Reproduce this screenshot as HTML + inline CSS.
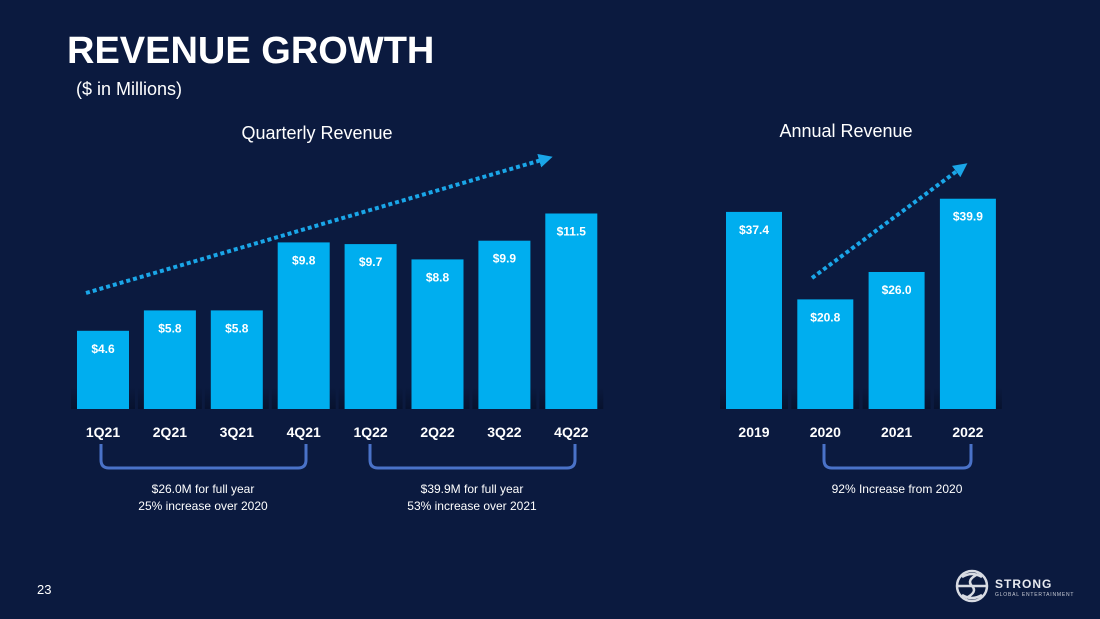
<!DOCTYPE html>
<html><head><meta charset="utf-8"><style>
html,body{margin:0;padding:0;background:#0b1a3f;}
svg{display:block;font-family:"Liberation Sans",sans-serif;}
</style></head><body>
<svg id="c" width="1100" height="619" viewBox="0 0 1100 619">
<rect width="1100" height="619" fill="#0b1a3f"/>
<text x="67" y="63" fill="#fff" font-size="38" font-weight="bold">REVENUE GROWTH</text>
<text x="76" y="95" fill="#fff" font-size="18">($ in Millions)</text>
<text x="317" y="139" fill="#fff" font-size="18" text-anchor="middle">Quarterly Revenue</text>
<text x="846" y="137" fill="#fff" font-size="18" text-anchor="middle">Annual Revenue</text>
<defs>
<linearGradient id="sh" x1="0" y1="0" x2="0" y2="1"><stop offset="0" stop-color="#06102a" stop-opacity="0"/><stop offset="1" stop-color="#06102a" stop-opacity="0.8"/></linearGradient>
<marker id="ah" markerWidth="3.5" markerHeight="3.5" refX="1.5" refY="1.75" orient="auto"><path d="M0,0L3.5,1.75L0,3.5z" fill="#1aa6e8"/></marker>
</defs>
<g id="q"></g><g id="a"></g>
<line x1="86" y1="293" x2="545" y2="159" stroke="#1aa6e8" stroke-width="4" stroke-dasharray="4,3" marker-end="url(#ah)"/>
<line x1="812" y1="278" x2="961" y2="168" stroke="#1aa6e8" stroke-width="4" stroke-dasharray="4,3" marker-end="url(#ah)"/>
<g fill="none" stroke="#4a72c8" stroke-width="3">
<path d="M101,444V460Q101,468 109,468H298Q306,468 306,460V444"/>
<path d="M370,444V460Q370,468 378,468H567Q575,468 575,460V444"/>
<path d="M824,444V460Q824,468 832,468H963Q971,468 971,460V444"/>
</g>
<g fill="#fff" font-size="12" text-anchor="middle">
<text x="203" y="493">$26.0M for full year</text>
<text x="203" y="510">25% increase over 2020</text>
<text x="472" y="493">$39.9M for full year</text>
<text x="472" y="510">53% increase over 2021</text>
<text x="897" y="493">92% Increase from 2020</text>
</g>
<text x="37" y="594" fill="#fff" font-size="13">23</text>
<g>
<circle cx="972" cy="586" r="15" fill="none" stroke="#d8dbe3" stroke-width="2.5"/>
<path d="M962,577Q972,571 982,577M958,586H986M962,595Q972,601 982,595M978,574Q966,580 972,586Q978,592 966,598" fill="none" stroke="#d8dbe3" stroke-width="2.5"/>
<text x="995" y="588" fill="#e8eaf0" font-size="12" font-weight="bold" letter-spacing="1">STRONG</text>
<text x="995" y="596" fill="#c8cbd5" font-size="5" letter-spacing="0.8">GLOBAL ENTERTAINMENT</text>
</g>
</svg>
<script>
const qCats=["1Q21","2Q21","3Q21","4Q21","1Q22","2Q22","3Q22","4Q22"];
const qVals=[4.6,5.8,5.8,9.8,9.7,8.8,9.9,11.5];
const aCats=["2019","2020","2021","2022"];
const aVals=[37.4,20.8,26.0,39.9];
const NS="http://www.w3.org/2000/svg";
const base=409;
function mk(t,at,p){const e=document.createElementNS(NS,t);for(const k in at)e.setAttribute(k,at[k]);p.appendChild(e);return e;}
function draw(g,cats,vals,x0,step,w,scale,prefix){
 cats.forEach((c,i)=>{
  const x=x0+i*step,h=vals[i]*scale,y=base-h;
  const sh=mk("rect",{x:x-6,y:base-22,width:w+12,height:22,fill:"url(#sh)"},g);
  
  
  const r=mk("rect",{x:x,y:y,width:w,height:h,fill:"#00aeef"},g);
  
  
  const t=mk("text",{x:x+w/2,y:y+22,fill:"#fff","font-size":"12","font-weight":"bold","text-anchor":"middle"},g);
  t.textContent="$"+vals[i].toFixed(1);
  
  
  const l=mk("text",{x:x+w/2,y:437,fill:"#fff","font-size":"14","font-weight":"bold","text-anchor":"middle"},g);
  l.textContent=c;
  
  
 });
}
draw(document.getElementById("q"),qCats,qVals,77,66.9,52,17.0,"q");
draw(document.getElementById("a"),aCats,aVals,726,71.3,56,5.27,"a");
</script>
</body></html>
